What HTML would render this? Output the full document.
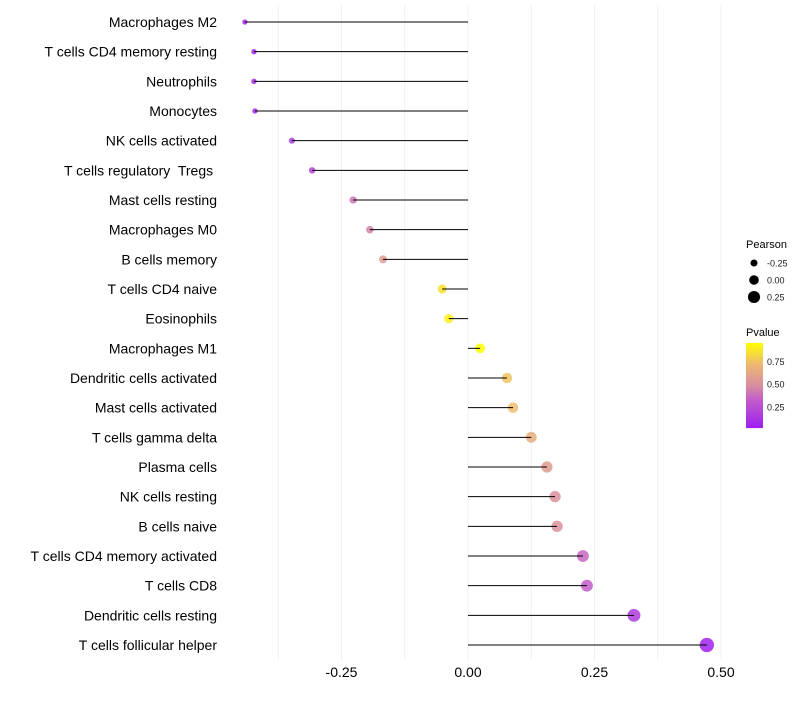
<!DOCTYPE html>
<html><head><meta charset="utf-8"><style>
body{margin:0;background:#fff;font-family:"Liberation Sans",sans-serif}
text{white-space:pre}
</style></head><body>
<svg id="chart" width="800" height="700" xmlns="http://www.w3.org/2000/svg">
<g id="grid"></g>
<g id="marks"></g>
<g id="ylabels"></g>
<g id="xlabels"></g>
<g id="legend"></g>
</svg>
<script>
const categories=["Macrophages M2","T cells CD4 memory resting","Neutrophils","Monocytes","NK cells activated","T cells regulatory  Tregs ","Mast cells resting","Macrophages M0","B cells memory","T cells CD4 naive","Eosinophils","Macrophages M1","Dendritic cells activated","Mast cells activated","T cells gamma delta","Plasma cells","NK cells resting","B cells naive","T cells CD4 memory activated","T cells CD8","Dendritic cells resting","T cells follicular helper"];
const pearson=[-0.441,-0.423,-0.423,-0.421,-0.348,-0.308,-0.227,-0.194,-0.168,-0.051,-0.038,0.024,0.077,0.089,0.125,0.156,0.172,0.176,0.227,0.235,0.328,0.472];
const pvalue=[0.05,0.05,0.05,0.05,0.15,0.2,0.4,0.45,0.55,0.85,0.9,0.95,0.75,0.72,0.65,0.55,0.5,0.5,0.35,0.32,0.15,0.03];
const xTicks=[-0.25,0,0.25,0.5];
const xTickLabels=["-0.25","0.00","0.25","0.50"];
const sizeLegend=[-0.25,0,0.25];
const sizeLegendLabels=["-0.25","0.00","0.25"];
const colorTicks=[0.25,0.5,0.75];
const colorTickLabels=["0.25","0.50","0.75"];

const NS="http://www.w3.org/2000/svg";
const x=v=>468+v*506;
const y=i=>22+i*(623/21);
const r=v=>4.8+5*v;
const stops=[[0,[160,32,240]],[0.33,[194,95,200]],[0.5,[216,143,160]],[0.75,[238,186,110]],[1,[255,255,0]]];
function col(p){let t=(p-0.02)/(0.95-0.02);t=Math.max(0,Math.min(1,t));
 for(let k=1;k<stops.length;k++){if(t<=stops[k][0]){const a=stops[k-1],b=stops[k];const f=(t-a[0])/(b[0]-a[0]);
 const c=a[1].map((v,j)=>Math.round(v+(b[1][j]-v)*f));return `rgb(${c})`;}}return "rgb(255,255,0)";}
function mk(tag,attrs,parent){const e=document.createElementNS(NS,tag);for(const k in attrs)e.setAttribute(k,attrs[k]);parent.appendChild(e);return e;}
const grid=document.getElementById('grid'),marks=document.getElementById('marks'),yl=document.getElementById('ylabels'),xl=document.getElementById('xlabels'),lg=document.getElementById('legend');
for(let v=-0.375;v<=0.5001;v+=0.125){
 const g=mk('line',{x1:x(v),x2:x(v),y1:5,y2:660,stroke:'#f0f0f0','stroke-width':1},grid);
 
 
}
categories.forEach((c,i)=>{
 const t=mk('text',{x:217,y:y(i)+5,'text-anchor':'end','font-size':14,fill:'#000'},yl);t.textContent=c;
 
 
 const d=mk('circle',{cx:x(pearson[i]),cy:y(i),r:r(pearson[i]),fill:col(pvalue[i]),'fill-opacity':0.85},marks);
 
 
 const s=mk('line',{x1:x(0),x2:x(pearson[i]),y1:y(i),y2:y(i),stroke:'#000','stroke-width':1},marks);
 
 
});
xTicks.forEach((v,i)=>{const t=mk('text',{x:x(v),y:677,'text-anchor':'middle','font-size':14,fill:'#000'},xl);t.textContent=xTickLabels[i];
 
 });
let tt=mk('text',{x:746,y:248,'font-size':11,fill:'#000'},lg);tt.textContent='Pearson';


sizeLegend.forEach((v,i)=>{const cy=263+i*17;
 const c=mk('circle',{cx:754,cy:cy,r:r(v),fill:'#000'},lg);
 
 
 const t=mk('text',{x:767,y:cy+3.5,'font-size':9,fill:'#1a1a1a'},lg);t.textContent=sizeLegendLabels[i];
 
 });
tt=mk('text',{x:746,y:336,'font-size':11,fill:'#000'},lg);tt.textContent='Pvalue';


const cy0=428,cy1=343,py=p=>cy0-(p-0.02)/(0.95-0.02)*(cy0-cy1);
for(let k=0;k<85;k++){const p=0.02+(k/85)*(0.93);const rr=mk('rect',{x:746,y:py(p)-1.1,width:17,height:1.2,fill:col(p)},lg);
 
 }
colorTicks.forEach((v,i)=>{const t=mk('text',{x:767,y:py(v)+3.5,'font-size':9,fill:'#1a1a1a'},lg);t.textContent=colorTickLabels[i];
 
 });
</script>
</body></html>
